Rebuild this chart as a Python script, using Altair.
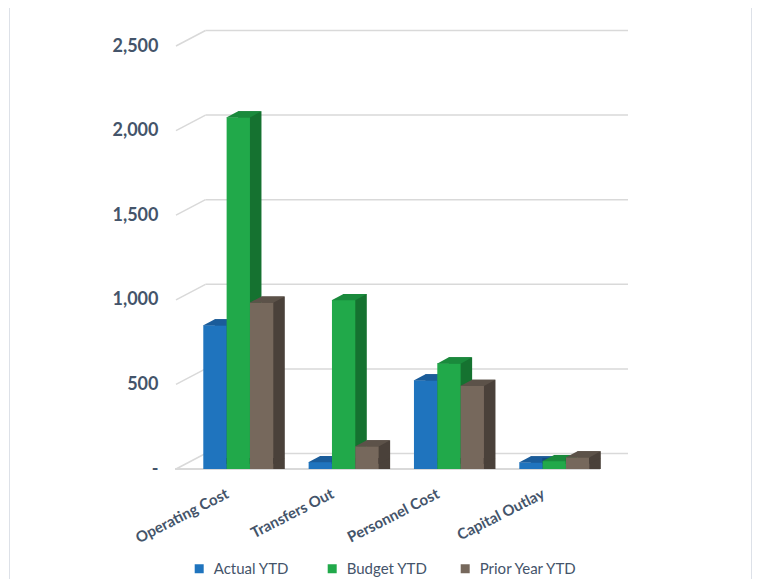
import altair as alt
import pandas as pd

# ---------------- data ----------------
categories = ["Operating Cost", "Transfers Out", "Personnel Cost", "Capital Outlay"]
series_names = ["Actual YTD", "Budget YTD", "Prior Year YTD"]
actual_ytd = [820, 12, 495, 10]
budget_ytd = [2050, 970, 595, 18]
prior_year_ytd = [955, 105, 463, 40]
y_ticks = [0, 500, 1000, 1500, 2000, 2500]

# ---------------- styles ----------------
front_colors = ["#1F74BE", "#21A94A", "#76685C"]
top_colors = ["#1A5C9A", "#1A8A3C", "#5C5249"]
side_colors = ["#154C80", "#157230", "#4A413A"]
TEXT = "#44546A"
GRID = "#D9D9D9"
FONT = "Lato"

rows = []
for s, vals in zip(series_names, [actual_ytd, budget_ytd, prior_year_ytd]):
    for c, v in zip(categories, vals):
        rows.append({"category": c, "series": s, "value": v})
df = pd.DataFrame(rows)
tick_df = pd.DataFrame({"tick": y_ticks})

W, H = 424, 423
BAR_W = 23.33
HW = BAR_W / 2
DX, DY = 11.5, 6.0
LIFT = 5
X_FRONT = [9.63, 430.96]
X_BACK = [X_FRONT[0] + DX, X_FRONT[1] + DX]
P_IN = 0.3354

yscale = alt.Scale(domain=[0, 2500], nice=False, zero=True)
yaxis = alt.Axis(values=y_ticks, grid=False, domain=False, ticks=False, tickSize=0,
                 labelExpr="datum.value == 0 ? '-' : format(datum.value, ',')",
                 labelPadding=18, labelFont=FONT, labelFontSize=18, labelFontWeight="bold",
                 labelColor=TEXT, title=None)


def yenc(field):
    return alt.Y(field, scale=yscale, axis=yaxis, stack=None)


def xenc(rng, axis=None):
    return alt.X("category:N", sort=categories,
                 scale=alt.Scale(domain=categories, range=rng, paddingInner=P_IN, paddingOuter=P_IN / 2),
                 axis=axis)


xoff_bar = alt.XOffset("series:N", sort=series_names,
                       scale=alt.Scale(domain=series_names, paddingInner=0, paddingOuter=0))
xoff_pt = alt.XOffset("series:N", sort=series_names,
                      scale=alt.Scale(domain=series_names, type="point", padding=0.5))

xaxis = alt.Axis(title=None, domain=False, ticks=False, tickSize=0, grid=False,
                 labelAngle=-27, labelAlign="right", labelBaseline="top",
                 labelPadding=17, labelOffset=-14, labelFont=FONT, labelFontSize=15,
                 labelFontWeight="bold", labelColor=TEXT)

legend = alt.Legend(orient="none", legendX=15.7, legendY=515, direction="horizontal",
                    title=None, symbolType="square", symbolSize=81, symbolStrokeWidth=0,
                    labelFont=FONT, labelFontSize=15, labelColor=TEXT, labelOffset=7,
                    columnPadding=13, gridAlign="all", padding=0)

top_path = f"M{-HW - 0.3},0.3L{HW},0.3L{HW + DX},{-DY}L{-HW + DX},{-DY}Z"
tri_path = f"M{HW - 0.3},0L{HW + DX},{-DY}L{HW - 0.3},{-DY}Z"

layers = []

# gridlines: back wall + left wall diagonal + floor front edge
layers.append(alt.Chart(tick_df).mark_rule(color=GRID, strokeWidth=1.5, yOffset=-15.5).encode(
    y=yenc("tick:Q"), x=alt.value(29.5), x2=alt.value(452)))
layers.append(alt.Chart(tick_df).mark_rule(color=GRID, strokeWidth=1.5, y2Offset=-15.5).encode(
    y=yenc("tick:Q"), y2=alt.Y2("tick:Q"), x=alt.value(0), x2=alt.value(29.5)))
layers.append(alt.Chart(tick_df).transform_filter(alt.datum.tick == 0).mark_rule(
    color=GRID, strokeWidth=2.2).encode(y=yenc("tick:Q"), x=alt.value(-1), x2=alt.value(424)))

for i, s in enumerate(series_names):
    base = alt.Chart(df).transform_filter(alt.datum.series == s)
    # back/side face
    layers.append(base.mark_bar(color=side_colors[i], yOffset=-(LIFT + DY), y2Offset=-(LIFT + DY)).encode(
        x=xenc(X_BACK), xOffset=xoff_bar, y=yenc("value:Q")))
    # front face
    layers.append(base.mark_bar(yOffset=-LIFT, y2Offset=-LIFT).encode(
        x=xenc(X_FRONT, xaxis if i == 0 else None), xOffset=xoff_bar, y=yenc("value:Q"),
        color=alt.Color("series:N", sort=series_names,
                        scale=alt.Scale(domain=series_names, range=front_colors), legend=legend)))
    # top face
    layers.append(base.mark_point(shape=top_path, size=4, filled=True, opacity=1, strokeWidth=0,
                                  color=top_colors[i], yOffset=-LIFT).encode(
        x=xenc(X_FRONT), xOffset=xoff_pt, y=yenc("value:Q")))
    # bottom corner of side face
    layers.append(base.transform_calculate(zero="0").mark_point(
        shape=tri_path, size=4, filled=True, opacity=1, strokeWidth=0,
        color=side_colors[i], yOffset=-LIFT).encode(
        x=xenc(X_FRONT), xOffset=xoff_pt, y=yenc("zero:Q")))

# outer frame lines
frame_df = pd.DataFrame({"k": [0]})
layers.append(alt.Chart(frame_df).mark_rule(color="#DDE1E8", strokeWidth=1).encode(
    x=alt.value(-166.5), y=alt.value(-40), y2=alt.value(H + 115)))
layers.append(alt.Chart(frame_df).mark_rule(color="#DDE1E8", strokeWidth=1).encode(
    x=alt.value(575.5), y=alt.value(-40), y2=alt.value(H + 115)))

chart = alt.layer(*layers).resolve_scale(x="independent", xOffset="independent").properties(
    width=W, height=H,
    padding={"left": 168, "top": 38, "right": 152, "bottom": 110},
    autosize=alt.AutoSizeParams(type="none"),
).configure_view(stroke=None)

chart.save("out.html", embed_options={"renderer": "svg", "actions": False})
